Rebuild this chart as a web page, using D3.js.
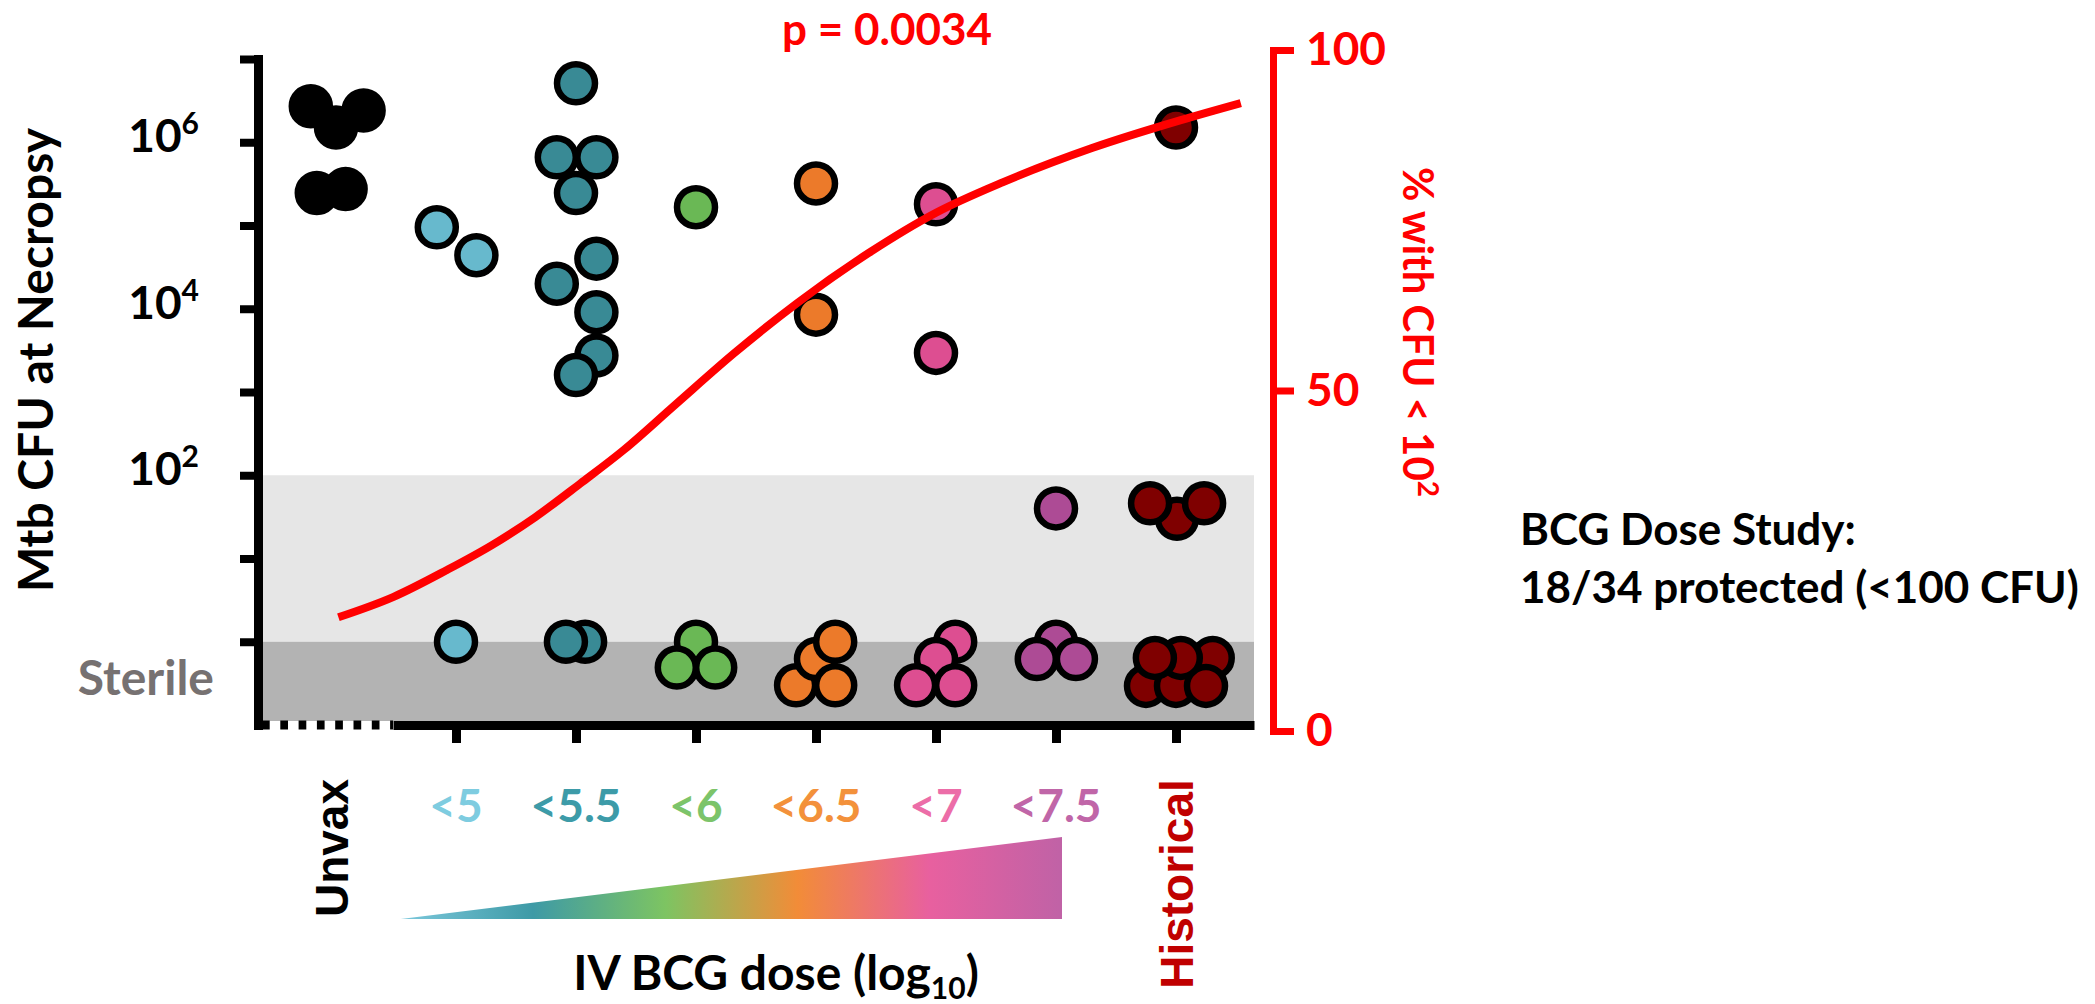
<!DOCTYPE html>
<html>
<head>
<meta charset="utf-8">
<script src="https://cdn.jsdelivr.net/npm/d3@7"></script>
<style>
  body { margin: 0; background: #fff; }
  text { font-family: Lato, "Open Sans", sans-serif; font-weight: 700; }
</style>
</head>
<body>
<div id="chart"></div>
<script>
// groups along the x axis (dose in log10, Unvax and Historical put at the ends)
var categories = ["Unvax", "<5", "<5.5", "<6", "<6.5", "<7", "<7.5", "Historical"];
var doses = [4.5, 5, 5.5, 6, 6.5, 7, 7.5, 8];
var dotColors = ["#000000", "#67B9CD", "#398A95", "#6AB855", "#EC7A2A", "#DD4E91", "#AD4B95", "#7F0000"];
var labelColors = ["#000000", "#7ECCE0", "#3D9BA8", "#7CC46A", "#F3913B", "#EC6DA8", "#C066A8", "#C00000"];

// CFU at necropsy per animal, with the beeswarm spread (dose units) of each dot
var unvaxCFU = [2.7e6, 2.4e6, 1.5e6, 2.45e5, 2.75e5];
var unvaxSpread = [-0.105, 0.115, 0, -0.08, 0.04];
var lt5CFU = [9.5e4, 4.4e4, 1];
var lt5Spread = [-0.08, 0.085, 0];
var lt55CFU = [5.1e6, 6.6e5, 6.6e5, 2.45e5, 4.0e4, 2.0e4, 9.1e3, 2.75e3, 1.6e3, 1, 1];
var lt55Spread = [0, -0.08, 0.085, 0, 0.085, -0.08, 0.085, 0.085, 0, 0.038, -0.042];
var lt6CFU = [1.66e5, 1, 0.49, 0.49];
var lt6Spread = [0, 0, -0.08, 0.08];
var lt65CFU = [3.2e5, 8.5e3, 0.3, 0.62, 1, 0.3];
var lt65Spread = [0, 0, -0.083, 0, 0.08, 0.08];
var lt7CFU = [1.8e5, 2.95e3, 1, 0.62, 0.3, 0.3];
var lt7Spread = [0, 0, 0.08, 0, -0.083, 0.08];
var lt75CFU = [40, 1, 0.62, 0.62];
var lt75Spread = [0, 0, -0.08, 0.083];
var histCFU = [1.5e6, 30, 46, 46, 0.64, 0.295, 0.295, 0.295, 0.64, 0.64];
var histSpread = [0, 0.004, -0.108, 0.117, 0.153, -0.125, 0, 0.125, 0.02, -0.088];

var groupCFU = [unvaxCFU, lt5CFU, lt55CFU, lt6CFU, lt65CFU, lt7CFU, lt75CFU, histCFU];
var groupSpread = [unvaxSpread, lt5Spread, lt55Spread, lt6Spread, lt65Spread, lt7Spread, lt75Spread, histSpread];

// fitted % with CFU < 10^2
var curveDose = [4.51, 4.74, 4.96, 5.15, 5.33, 5.52, 5.70, 5.91, 6.16, 6.42, 6.72, 7.00, 7.28, 7.65, 8.02, 8.27];
var curvePct = [16.7, 19.7, 23.6, 27.3, 31.4, 36.4, 41.3, 47.8, 55.5, 62.8, 70.2, 76.1, 80.6, 85.6, 89.7, 92.2];

var yTicks = [1, 10, 1e2, 1e3, 1e4, 1e5, 1e6, 1e7];
var yLabelExp = [2, 4, 6];
var pctTicks = [0, 50, 100];
var gradStops = ["#7CC8DC", "#3E9AA6", "#7DC462", "#F28C38", "#E8609F", "#C062A6"];

var W = 2095, H = 1004;
var svg = d3.select("#chart").append("svg")
  .attr("width", W).attr("height", H)
  .style("background", "#fff");

var x = d3.scaleLinear().domain([4.175, 8.325]).range([258, 1254]);
var y = d3.scaleLog().domain([0.1, 1e7]).range([725, 59]);
var yR = d3.scaleLinear().domain([0, 100]).range([731, 50]);

// shaded bands: 10^0..10^2 light, sterile below 10^0 darker
svg.append("rect")
  .attr("x", x.range()[0]).attr("width", x.range()[1] - x.range()[0])
  .attr("y", y(100)).attr("height", y(1) - y(100))
  .attr("fill", "#E6E6E6")
svg.append("rect")
  .attr("x", x.range()[0]).attr("width", x.range()[1] - x.range()[0])
  .attr("y", y(1)).attr("height", y(0.1) - y(1) - 4)
  .attr("fill", "#B3B3B3")

// dots
var dots = []
groupCFU.forEach(function(vals, gi) {
  vals.forEach(function(v, i) {
    dots.push({g: gi, cfu: v, dx: groupSpread[gi][i]})
  })
})
svg.append("g").selectAll("circle")
  .data(dots)
  .enter().append("circle")
  .attr("cx", function(d) { return x(doses[d.g] + d.dx) })
  .attr("cy", function(d) { return y(d.cfu) })
  .attr("r", 19)
  .attr("fill", function(d) { return dotColors[d.g] })
  .attr("stroke", "#000")
  .attr("stroke-width", 6.5)

// left axis
var yAxis = svg.append("g")
  .attr("transform", "translate(" + x.range()[0] + ",0)")
  .call(d3.axisLeft(y).tickValues(yTicks).tickSize(18).tickSizeOuter(0).tickFormat(""))
yAxis.select(".domain").attr("stroke", "#000").attr("stroke-width", 9).attr("stroke-linecap", "square")
yAxis.selectAll(".tick line").attr("stroke", "#000").attr("stroke-width", 8)

var yl = svg.append("g").selectAll("text")
  .data(yLabelExp)
  .enter().append("text")
  .attr("x", 199)
  .attr("y", function(d) { return y(Math.pow(10, d)) + 10 })
  .attr("text-anchor", "end")
  .attr("font-size", 46)
  .attr("fill", "#000")
yl.append("tspan").text("10")
yl.append("tspan").attr("dy", -18).attr("font-size", 30).text(function(d) { return d })

// bottom axis: dotted under Unvax, solid for the rest
var xBreak = 4.7375;
svg.append("line")
  .attr("x1", x.range()[0] + 4).attr("x2", x(xBreak))
  .attr("y1", y(0.1)).attr("y2", y(0.1))
  .attr("stroke", "#000").attr("stroke-width", 9)
  .attr("stroke-dasharray", "7.7,10.6")
var xAxis = svg.append("g")
  .attr("transform", "translate(0," + y(0.1) + ")")
  .call(d3.axisBottom(x.copy().domain([xBreak, x.domain()[1]]).range([x(xBreak), x.range()[1]]))
    .tickValues(doses.slice(1)).tickSize(18).tickSizeOuter(0).tickFormat(""))
xAxis.select(".domain").attr("stroke", "#000").attr("stroke-width", 9)
xAxis.selectAll(".tick line").attr("stroke", "#000").attr("stroke-width", 9)

// right axis (red)
var rAxis = svg.append("g")
  .attr("transform", "translate(1273,0)")
  .call(d3.axisRight(yR).tickValues(pctTicks).tickSize(21).tickSizeOuter(0).tickPadding(12))
rAxis.select(".domain").attr("stroke", "#FF0000").attr("stroke-width", 7).attr("stroke-linecap", "square")
rAxis.selectAll(".tick line").attr("stroke", "#FF0000").attr("stroke-width", 7)
rAxis.selectAll(".tick text")
  .attr("fill", "#FF0000").attr("font-size", 46)
  .style("font-family", "Lato").style("font-weight", 700)

// fitted curve
var line = d3.line()
  .x(function(d, i) { return x(curveDose[i]) })
  .y(function(d) { return yR(d) })
  .curve(d3.curveMonotoneX)
svg.append("path")
  .datum(curvePct)
  .attr("d", line)
  .attr("fill", "none")
  .attr("stroke", "#FF0000")
  .attr("stroke-width", 8)

// texts
svg.append("text")
  .attr("transform", "translate(53,360) rotate(-90)")
  .attr("text-anchor", "middle").attr("font-size", 48).attr("fill", "#000")
  .text("Mtb CFU at Necropsy")

var rt = svg.append("text")
  .attr("transform", "translate(1403,332) rotate(90)")
  .attr("text-anchor", "middle").attr("font-size", 42).attr("fill", "#FF0000")
rt.append("tspan").text("% with CFU < 10")
rt.append("tspan").attr("dy", -15).attr("font-size", 28).text("2")

svg.append("text")
  .attr("x", 887).attr("y", 45)
  .attr("text-anchor", "middle").attr("font-size", 44).attr("fill", "#FF0000")
  .text("p = 0.0034")

svg.append("text")
  .attr("x", 214).attr("y", 695)
  .attr("text-anchor", "end").attr("font-size", 48).attr("fill", "#767171")
  .text("Sterile")

svg.append("text").attr("x", 1520).attr("y", 545)
  .attr("font-size", 44).attr("fill", "#000").text("BCG Dose Study:")
svg.append("text").attr("x", 1520).attr("y", 603)
  .attr("font-size", 44).attr("fill", "#000").text("18/34 protected (<100 CFU)")

// category labels
svg.append("g").selectAll("text")
  .data(categories.slice(1, 7))
  .enter().append("text")
  .attr("x", function(d, i) { return x(doses[i + 1]) })
  .attr("y", 822)
  .attr("text-anchor", "middle").attr("font-size", 46)
  .attr("fill", function(d, i) { return labelColors[i + 1] })
  .text(function(d) { return d })

svg.append("text")
  .attr("transform", "translate(348,848) rotate(-90)")
  .attr("text-anchor", "middle").attr("font-size", 46).attr("fill", labelColors[0])
  .style("font-family", "'Liberation Sans', Arial, sans-serif")
  .text(categories[0])
svg.append("text")
  .attr("transform", "translate(1193,884) rotate(-90)")
  .attr("text-anchor", "middle").attr("font-size", 46).attr("fill", labelColors[7])
  .style("font-family", "'Liberation Sans', Arial, sans-serif")
  .text(categories[7])

// dose wedge
var grad = svg.append("defs").append("linearGradient")
  .attr("id", "doseGrad").attr("x1", "0%").attr("x2", "100%")
grad.selectAll("stop").data(gradStops).enter().append("stop")
  .attr("offset", function(d, i) { return (i / (gradStops.length - 1) * 100) + "%" })
  .attr("stop-color", function(d) { return d })
var w0 = 4.77, w1 = 7.525;
svg.append("path")
  .attr("d", "M" + x(w0) + "," + 919 + "L" + x(w1) + "," + 919 + "L" + x(w1) + "," + 837 + "Z")
  .attr("fill", "url(#doseGrad)")

var xt = svg.append("text")
  .attr("x", 776).attr("y", 990)
  .attr("text-anchor", "middle").attr("font-size", 48).attr("fill", "#000")
xt.append("tspan").text("IV BCG dose (log")
xt.append("tspan").attr("dy", 9).attr("font-size", 30).text("10")
xt.append("tspan").attr("dy", -9).text(")")
</script>
</body>
</html>
